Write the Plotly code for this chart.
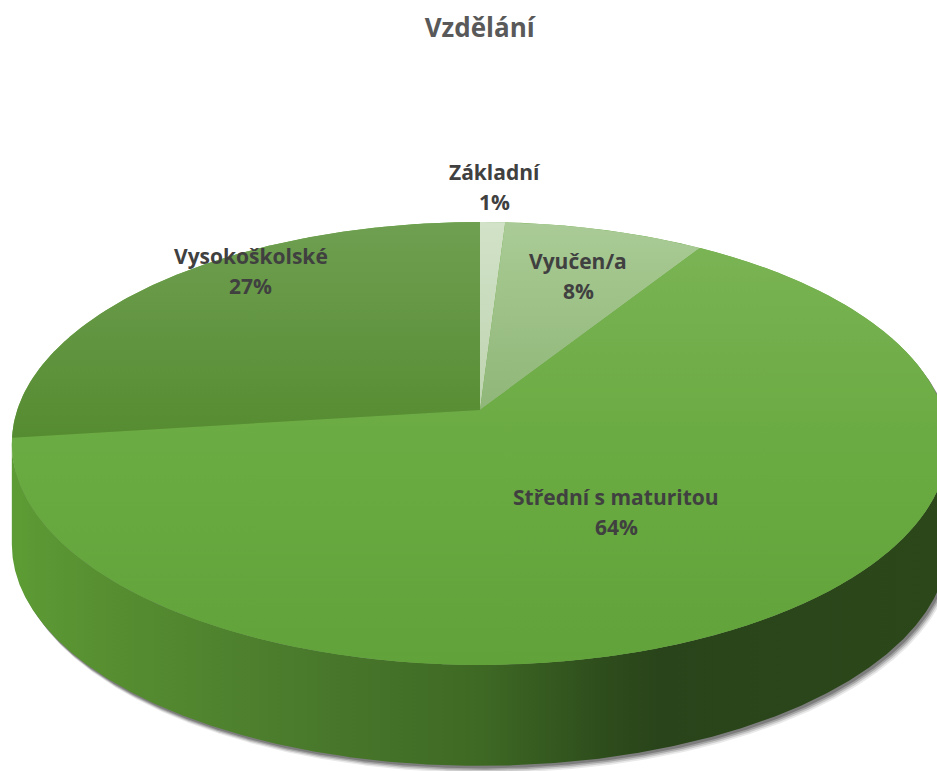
import numpy as np
import plotly.graph_objects as go

# ---- data ----
categories = ["Základní", "Vyučen/a", "Střední s maturitou", "Vysokoškolské"]
values = [1, 8, 64, 27]
title_text = "Vzdělání"

# ---- style ----
W, HGT = 937, 771
top_colorscales = [
    [[0, "#d2e2c8"], [0.45, "#bdd3ae"], [1, "#b2caa2"]],
    [[0, "#aacb97"], [0.12, "#a2c58c"], [0.45, "#8eb577"], [1, "#88b070"]],
    [[0, "#7cb556"], [0.25, "#73af4c"], [0.55, "#69aa41"], [1, "#61a23a"]],
    [[0, "#6f9f51"], [0.5, "#558b30"], [1, "#4f842a"]],
]
side_colorscale = [[0, "#5d9c35"], [0.095, "#578f31"], [0.31, "#4a7a2c"],
                   [0.5, "#3e6924"], [0.63, "#2e4d1c"], [0.69, "#29441a"], [1, "#2c481a"]]
label_radius = [1.22, 0.72, 0.52, 0.90]
label_angle_shift = [0, 1, 0.5, 11]
label_color = "#404040"
label_font = "'Open Sans', Lato, sans-serif"

# pie geometry (3-D perspective projection)
CX, CY, A, B, P, DEPTH = 480, 410, 462.8, 216.4, 0.151, 101


def proj(r, th_deg):
    t = np.radians(th_deg)
    u = r * np.sin(t)
    v = r * np.cos(t)
    w = 1 + P * v
    return CX + A * u / w, CY - B * v / w


vals = np.array(values, dtype=float)
frac = vals / vals.sum()
ends = np.cumsum(frac) * 360.0
starts = ends - frac * 360.0

th_all = np.linspace(0, 360, 36001)
xa, _ = proj(1, th_all)
th_right = th_all[np.argmax(xa)]
th_left = th_all[np.argmin(xa)]
top_y = proj(1, 0)[1]
bot_y = proj(1, 180)[1]
left_x = xa.min()
right_x = xa.max()


def arc(a0, a1, n=None):
    if n is None:
        n = max(int(abs(a1 - a0) * 4), 8)
    t = np.linspace(a0, a1, n)
    return proj(1, t)


fig = go.Figure()

# shadow
for off, alpha in [((5, 7), 0.10), ((4, 5.5), 0.16), ((3, 4), 0.24), ((2, 2.5), 0.30)]:
    bx, by = arc(th_right, th_left)
    tx, ty = arc(th_left, th_right + 360)
    xs = np.concatenate([bx, tx]) + off[0]
    ys = np.concatenate([by + DEPTH, ty]) + off[1]
    fig.add_trace(go.Scatter(x=xs, y=ys, mode="lines", fill="toself",
                             fillcolor=f"rgba(40,40,40,{alpha})", line=dict(width=0),
                             hoverinfo="skip", showlegend=False))

# visible sides
for i in range(len(vals)):
    s = max(starts[i], th_right)
    e = min(ends[i], th_left)
    if e <= s:
        continue
    ux, uy = arc(s, e)
    xs = np.concatenate([ux, ux[::-1]])
    ys = np.concatenate([uy, (uy + DEPTH)[::-1]])
    fig.add_trace(go.Scatter(x=xs, y=ys, mode="lines", fill="toself",
                             line=dict(width=0), hoverinfo="skip", showlegend=False,
                             fillgradient=dict(type="horizontal", colorscale=side_colorscale,
                                               start=left_x, stop=right_x)))

# base top ellipse (hides seams)
ex, ey = arc(0, 360, 1440)
fig.add_trace(go.Scatter(x=ex, y=ey, mode="lines", fill="toself", fillcolor="#66a73e",
                         line=dict(width=0), hoverinfo="skip", showlegend=False))

# top slices
for i in range(len(vals)):
    ax_, ay_ = arc(starts[i], ends[i])
    xs = np.concatenate([[CX], ax_, [CX]])
    ys = np.concatenate([[CY], ay_, [CY]])
    fig.add_trace(go.Scatter(x=xs, y=ys, mode="lines", fill="toself",
                             line=dict(width=0), hoverinfo="skip", showlegend=False,
                             name=categories[i],
                             fillgradient=dict(type="vertical", colorscale=top_colorscales[i],
                                               start=top_y, stop=bot_y)))

# labels
for i in range(len(vals)):
    mid = (starts[i] + ends[i]) / 2 + label_angle_shift[i]
    lx, ly = proj(label_radius[i], mid)
    pct = f"{round(frac[i] * 100):.0f}%"
    fig.add_annotation(x=float(lx), y=float(ly) - 15, text=f"<b>{categories[i]}</b>",
                       showarrow=False, xanchor="center", yanchor="middle",
                       font=dict(family=label_font, size=21, color=label_color))
    fig.add_annotation(x=float(lx), y=float(ly) + 15, text=f"<b>{pct}</b>",
                       showarrow=False, xanchor="center", yanchor="middle",
                       font=dict(family=label_font, size=21, color=label_color))

fig.update_layout(
    width=W, height=HGT,
    margin=dict(l=0, r=0, t=0, b=0),
    paper_bgcolor="white", plot_bgcolor="white",
    title=dict(text=f"<b>{title_text}</b>", x=0.512, xanchor="center",
               y=1 - 28 / HGT, yanchor="middle",
               font=dict(family=label_font, size=26, color="#595959")),
    xaxis=dict(range=[0, W], visible=False, fixedrange=True),
    yaxis=dict(range=[HGT, 0], visible=False, fixedrange=True),
    showlegend=False,
)

fig.write_html("out.html", config={"displayModeBar": False},
               post_script="document.body.style.margin='0';")
